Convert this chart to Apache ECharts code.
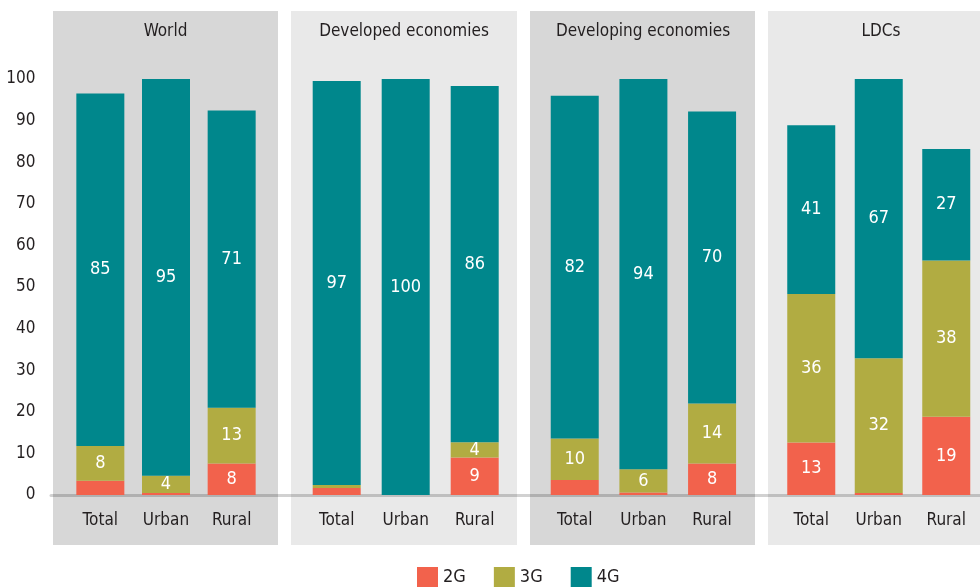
<!DOCTYPE html>
<html>
<head>
<meta charset="utf-8">
<script src="https://cdn.jsdelivr.net/npm/echarts@6/dist/echarts.min.js"></script>
<style>html,body{margin:0;padding:0;background:#fff}#c{width:980px;height:588px}</style>
</head>
<body>
<div id="c"></div>
<script>
var panels = ['World', 'Developed economies', 'Developing economies', 'LDCs'];
var categories = ['Total', 'Urban', 'Rural'];
var seriesNames = ['2G', '3G', '4G'];
var yTicks = [0, 10, 20, 30, 40, 50, 60, 70, 80, 90, 100];

var g2 = {
  'World': [3.4, 0.5, 7.6],
  'Developed economies': [1.7, 0, 9.0],
  'Developing economies': [3.6, 0.6, 7.6],
  'LDCs': [12.6, 0.5, 18.8]
};
var g3 = {
  'World': [8.4, 4.1, 13.4],
  'Developed economies': [0.7, 0, 3.7],
  'Developing economies': [10.0, 5.6, 14.4],
  'LDCs': [35.7, 32.4, 37.6]
};
var g4 = {
  'World': [84.7, 95.4, 71.4],
  'Developed economies': [97.1, 100, 85.6],
  'Developing economies': [82.4, 93.8, 70.2],
  'LDCs': [40.6, 67.1, 26.8]
};

var colors = ['#f2624c', '#b1ac42', '#00878c'];
var FONT = '"DejaVu Sans Condensed", "Liberation Sans Narrow", Roboto, sans-serif';
var TXT = '#231f20';

// layout (pixels)
var panelRects = [
  {x: 53, w: 225, c: '#d7d7d7'},
  {x: 291, w: 226, c: '#e9e9e9'},
  {x: 530, w: 225, c: '#d7d7d7'},
  {x: 768, w: 212, c: '#e9e9e9'}
];
var gridPos = [
  {left: 67.5, width: 197},
  {left: 302.2, width: 207},
  {left: 540.4, width: 206},
  {left: 777.5, width: 205.5}
];
var titleX = [165.5, 404, 643, 881];

var grids = [], xAxes = [], yAxes = [], series = [], titles = [], graphics = [];
panelRects.forEach(function (p) {
  graphics.push({type: 'rect', z: -10, shape: {x: p.x, y: 11, width: p.w, height: 534}, style: {fill: p.c}});
});

panels.forEach(function (name, i) {
  grids.push({left: gridPos[i].left, width: gridPos[i].width, top: 79, bottom: 93, containLabel: false});
  xAxes.push({
    type: 'category', gridIndex: i, data: categories,
    axisLine: {show: false}, axisTick: {show: false},
    axisLabel: {fontFamily: FONT, fontSize: 17, color: TXT, margin: 17, interval: 0}
  });
  yAxes.push({
    type: 'value', gridIndex: i, min: 0, max: 100, interval: 10,
    show: i === 0,
    splitLine: {show: false}, axisLine: {show: false}, axisTick: {show: false},
    axisLabel: {fontFamily: FONT, fontSize: 17, color: TXT, margin: 32}
  });
  titles.push({
    text: name, left: titleX[i], top: 23, textAlign: 'center', padding: 0,
    textStyle: {fontFamily: FONT, fontSize: 17, fontWeight: 'normal', color: TXT}
  });
  [g2, g3, g4].forEach(function (src, k) {
    series.push({
      name: seriesNames[k], type: 'bar', stack: 's' + i,
      xAxisIndex: i, yAxisIndex: i, barWidth: 48, z: 3,
      itemStyle: {color: colors[k]},
      label: {
        show: true, position: 'inside', color: '#fff', fontFamily: FONT, fontSize: 18,
        formatter: function (p) { return p.value >= 3.7 ? String(Math.round(p.value)) : ''; }
      },
      data: src[name]
    });
  });
});

// baseline spanning all panels
grids.push({left: 51, right: 0, top: 79, bottom: 93});
xAxes.push({
  type: 'category', gridIndex: 4, data: ['a'], z: 1,
  axisLine: {show: true, lineStyle: {color: 'rgba(0,0,0,0.18)', width: 3}},
  axisTick: {show: false}, axisLabel: {show: false}
});
yAxes.push({type: 'value', gridIndex: 4, min: 0, max: 100, interval: 10, show: false});

var chart = echarts.init(document.getElementById('c'), null, {renderer: 'canvas'});
chart.setOption({
  animation: false,
  title: titles,
  grid: grids,
  xAxis: xAxes,
  yAxis: yAxes,
  graphic: {elements: graphics},
  legend: {
    data: seriesNames, left: 417, top: 567, icon: 'rect',
    itemWidth: 21, itemHeight: 20, itemGap: 28, padding: 0,
    textStyle: {fontFamily: FONT, fontSize: 18, color: TXT}
  },
  series: series
});
</script>
</body>
</html>
